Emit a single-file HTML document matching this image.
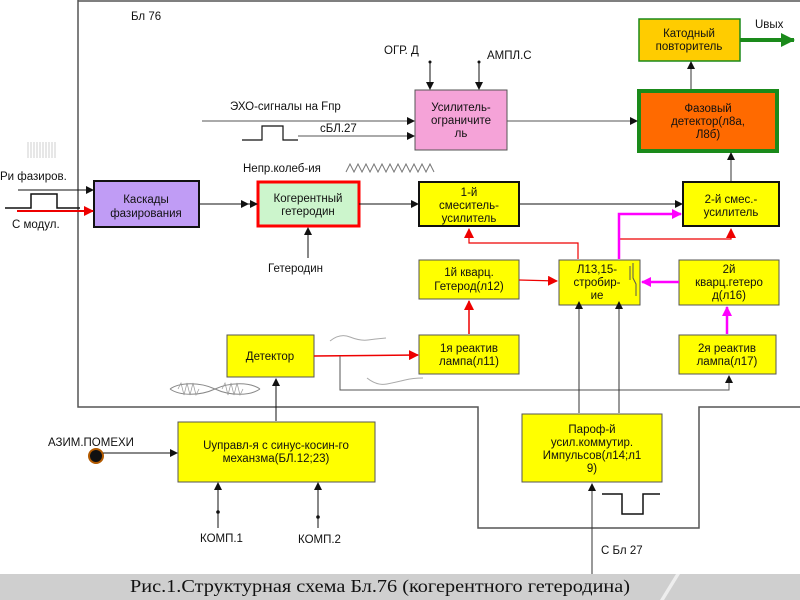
<!DOCTYPE html>
<html><head><meta charset="utf-8"><style>
html,body{margin:0;padding:0;background:#fff;width:800px;height:600px;overflow:hidden}
svg text{font-family:"Liberation Sans","DejaVu Sans",sans-serif;font-size:11.5px;fill:#111}
</style></head><body>
<svg width="800" height="600" viewBox="0 0 800 600" xmlns="http://www.w3.org/2000/svg">
<defs>
<marker id="ak" markerWidth="8" markerHeight="8" refX="7" refY="4" orient="auto" markerUnits="userSpaceOnUse"><path d="M0,0 L8,4 L0,8 z" fill="#111"/></marker>
<marker id="ar" markerWidth="10" markerHeight="10" refX="9" refY="5" orient="auto" markerUnits="userSpaceOnUse"><path d="M0,0 L10,5 L0,10 z" fill="#e00"/></marker>
<marker id="am" markerWidth="10" markerHeight="10" refX="9" refY="5" orient="auto" markerUnits="userSpaceOnUse"><path d="M0,0 L10,5 L0,10 z" fill="#f0f"/></marker>
<marker id="ag" markerWidth="14" markerHeight="14" refX="13" refY="7" orient="auto" markerUnits="userSpaceOnUse"><path d="M0,0 L14,7 L0,14 z" fill="#1a8a1a"/></marker>
</defs>
<path d="M78,0 L78,407 L478,407 L478,528 L699,528 L699,407 L800,407" fill="none" stroke="#555" stroke-width="1.5"/>
<path d="M78,1 L800,1" stroke="#555" stroke-width="1.5"/>
<text x="131" y="20" font-size="12">Бл 76</text>

<rect x="94" y="181" width="105" height="46" fill="#c09cf5" stroke="#111" stroke-width="2"/>
<text x="146" y="203" text-anchor="middle">Каскады</text><text x="146" y="217" text-anchor="middle">фазирования</text>
<rect x="258" y="182" width="101" height="44" fill="#ccf5cc" stroke="#f00" stroke-width="3"/>
<text x="308" y="202" text-anchor="middle">Когерентный</text><text x="308" y="215" text-anchor="middle">гетеродин</text>
<rect x="415" y="90" width="92" height="60" fill="#f5a3d8" stroke="#555" stroke-width="1"/>
<text x="461" y="111" text-anchor="middle">Усилитель-</text><text x="461" y="124" text-anchor="middle">ограничите</text><text x="461" y="137" text-anchor="middle">ль</text>
<rect x="419" y="182" width="100" height="44" fill="#ff0" stroke="#111" stroke-width="2"/>
<text x="469" y="196" text-anchor="middle">1-й</text><text x="469" y="209" text-anchor="middle">смеситель-</text><text x="469" y="222" text-anchor="middle">усилитель</text>
<rect x="639" y="91" width="138" height="60" fill="#ff6a00" stroke="#1a8a1a" stroke-width="4"/>
<text x="708" y="112" text-anchor="middle">Фазовый</text><text x="708" y="125" text-anchor="middle">детектор(л8а,</text><text x="708" y="138" text-anchor="middle">Л8б)</text>
<rect x="639" y="19" width="101" height="42" fill="#fc0" stroke="#1a8a1a" stroke-width="1.5"/>
<text x="689" y="37" text-anchor="middle">Катодный</text><text x="689" y="50" text-anchor="middle">повторитель</text>
<rect x="683" y="182" width="96" height="44" fill="#ff0" stroke="#111" stroke-width="2"/>
<text x="731" y="203" text-anchor="middle">2-й смес.-</text><text x="731" y="216" text-anchor="middle">усилитель</text>
<rect x="419" y="260" width="100" height="39" fill="#ff0" stroke="#555" stroke-width="1"/>
<text x="469" y="276" text-anchor="middle">1й кварц.</text><text x="469" y="290" text-anchor="middle">Гетерод(л12)</text>
<rect x="559" y="260" width="81" height="45" fill="#ff0" stroke="#555" stroke-width="1"/>
<text x="597" y="273" text-anchor="middle">Л13,15-</text><text x="597" y="286" text-anchor="middle">стробир-</text><text x="597" y="299" text-anchor="middle">ие</text>
<path d="M633,263 L633,278 L636,284 L636,296 M630,266 L630,280" stroke="#555" fill="none"/>
<rect x="679" y="260" width="100" height="45" fill="#ff0" stroke="#555" stroke-width="1"/>
<text x="729" y="273" text-anchor="middle">2й</text><text x="729" y="286" text-anchor="middle">кварц.гетеро</text><text x="729" y="299" text-anchor="middle">д(л16)</text>
<rect x="227" y="335" width="87" height="42" fill="#ff0" stroke="#555" stroke-width="1"/>
<text x="270" y="360" text-anchor="middle">Детектор</text>
<rect x="419" y="335" width="100" height="39" fill="#ff0" stroke="#555" stroke-width="1"/>
<text x="469" y="352" text-anchor="middle">1я реактив</text><text x="469" y="365" text-anchor="middle">лампа(л11)</text>
<rect x="679" y="335" width="97" height="39" fill="#ff0" stroke="#555" stroke-width="1"/>
<text x="727" y="352" text-anchor="middle">2я реактив</text><text x="727" y="365" text-anchor="middle">лампа(л17)</text>
<rect x="178" y="422" width="197" height="60" fill="#ff0" stroke="#555" stroke-width="1"/>
<text x="276" y="449" text-anchor="middle">Uуправл-я с синус-косин-го</text><text x="276" y="462" text-anchor="middle">механзма(БЛ.12;23)</text>
<rect x="522" y="414" width="140" height="68" fill="#ff0" stroke="#555" stroke-width="1"/>
<text x="592" y="433" text-anchor="middle">Пароф-й</text><text x="592" y="446" text-anchor="middle">усил.коммутир.</text><text x="592" y="459" text-anchor="middle">Импульсов(л14;л1</text><text x="592" y="472" text-anchor="middle">9)</text>

<path d="M28,142 L28,158 M31,142 L31,158 M34,142 L34,158 M37,142 L37,158 M40,142 L40,158 M43,142 L43,158 M46,142 L46,158 M49,142 L49,158 M52,142 L52,158 M55,142 L55,158" stroke="#bbb" stroke-width="0.7"/>
<text x="0" y="180" font-size="12">Ри фазиров.</text>
<line x1="18" y1="190" x2="93" y2="190" stroke="#111" marker-end="url(#ak)"/>
<path d="M5,208 L31,208 L31,194 L57,194 L57,208 L80,208" stroke="#111" fill="none" stroke-width="1.5"/>
<line x1="17" y1="211" x2="93" y2="211" stroke="#e00" stroke-width="2" marker-end="url(#ar)"/>
<text x="12" y="228" font-size="12">С модул.</text>
<line x1="199" y1="204" x2="248" y2="204" stroke="#111" marker-end="url(#ak)"/>
<line x1="240" y1="204" x2="257" y2="204" stroke="#111" marker-end="url(#ak)"/>
<line x1="308" y1="258" x2="308" y2="228" stroke="#111" marker-end="url(#ak)"/>
<text x="268" y="272">Гетеродин</text>
<text x="243" y="172">Непр.колеб-ия</text>
<path d="M346,172 l4,-8 l4,8 l4,-8 l4,8 l4,-8 l4,8 l4,-8 l4,8 l4,-8 l4,8 l4,-8 l4,8 l4,-8 l4,8 l4,-8 l4,8 l4,-8 l4,8 l4,-8 l4,8 l4,-8 l4,8" stroke="#777" fill="none"/>
<line x1="359" y1="204" x2="418" y2="204" stroke="#111" marker-end="url(#ak)"/>
<line x1="519" y1="204" x2="682" y2="204" stroke="#111" marker-end="url(#ak)"/>

<text x="230" y="110" font-size="12">ЭХО-сигналы на Fпр</text>
<line x1="202" y1="121" x2="414" y2="121" stroke="#555" marker-end="url(#ak)"/>
<path d="M242,140 L262,140 L262,126 L283,126 L283,140 L298,140" stroke="#111" fill="none" stroke-width="1.2"/>
<text x="320" y="132">сБЛ.27</text>
<line x1="298" y1="136" x2="414" y2="136" stroke="#555" marker-end="url(#ak)"/>
<text x="384" y="54">ОГР. Д</text><text x="487" y="59">АМПЛ.С</text>
<circle cx="430" cy="62" r="1.5" fill="#111"/><line x1="430" y1="62" x2="430" y2="89" stroke="#111" marker-end="url(#ak)"/>
<circle cx="479" cy="62" r="1.5" fill="#111"/><line x1="479" y1="62" x2="479" y2="89" stroke="#111" marker-end="url(#ak)"/>
<line x1="507" y1="121" x2="637" y2="121" stroke="#555" marker-end="url(#ak)"/>
<line x1="691" y1="89" x2="691" y2="62" stroke="#333" marker-end="url(#ak)"/>
<line x1="731" y1="181" x2="731" y2="153" stroke="#333" marker-end="url(#ak)"/>
<line x1="740" y1="40" x2="794" y2="40" stroke="#1a8a1a" stroke-width="4" marker-end="url(#ag)"/>
<text x="755" y="28" font-size="12">Uвых</text>

<path d="M578,259 L578,243 L469,243 L469,229" stroke="#e00" fill="none" stroke-width="1.2" marker-end="url(#ar)"/>
<path d="M519,280 L557,281" stroke="#e00" stroke-width="1.2" marker-end="url(#ar)"/>
<path d="M619,259 L619,239 L731,239 L731,229" stroke="#e00" fill="none" stroke-width="1.2" marker-end="url(#ar)"/>
<path d="M619,259 L619,214 L681,214" stroke="#f0f" fill="none" stroke-width="2.5" marker-end="url(#am)"/>
<path d="M679,282 L642,282" stroke="#f0f" stroke-width="2.5" marker-end="url(#am)"/>
<path d="M727,334 L727,307" stroke="#f0f" stroke-width="2.5" marker-end="url(#am)"/>
<path d="M469,334 L469,301" stroke="#e00" stroke-width="1.5" marker-end="url(#ar)"/>
<path d="M314,356 L418,355" stroke="#e00" stroke-width="1.5" marker-end="url(#ar)"/>
<path d="M340,356 L340,390 L729,390 L729,376" stroke="#555" fill="none" marker-end="url(#ak)"/>
<path d="M330,341 q10,-8 20,-4 t18,3 t18,-2" stroke="#aaa" fill="none"/>
<path d="M367,378 q10,8 20,6 t18,-4 t18,-2" stroke="#aaa" fill="none"/>
<path d="M170,389 c10,-7 30,-7 45,0 c15,7 35,7 45,0 M170,389 c10,7 30,7 45,0 c15,-7 35,-7 45,0" stroke="#888" fill="none"/>
<path d="M178,389 l3,-6 l3,12 l3,-12 l3,12 l3,-12 l3,12 l3,-6 M222,389 l3,-6 l3,12 l3,-12 l3,12 l3,-12 l3,12 l3,-6" stroke="#999" fill="none" stroke-width="0.7"/>
<line x1="276" y1="421" x2="276" y2="379" stroke="#111" marker-end="url(#ak)"/>
<text x="48" y="446" font-size="12">АЗИМ.ПОМЕХИ</text>
<circle cx="96" cy="456" r="7" fill="#111" stroke="#b25a00" stroke-width="2"/>
<line x1="103" y1="453" x2="177" y2="453" stroke="#111" marker-end="url(#ak)"/>
<line x1="218" y1="528" x2="218" y2="483" stroke="#111" marker-end="url(#ak)"/><circle cx="218" cy="512" r="1.8" fill="#111"/>
<line x1="318" y1="528" x2="318" y2="483" stroke="#111" marker-end="url(#ak)"/><circle cx="318" cy="517" r="1.8" fill="#111"/>
<text x="200" y="542">КОМП.1</text><text x="298" y="543">КОМП.2</text>
<line x1="579" y1="413" x2="579" y2="302" stroke="#333" marker-end="url(#ak)"/>
<line x1="619" y1="413" x2="619" y2="302" stroke="#333" marker-end="url(#ak)"/>
<line x1="592" y1="574" x2="592" y2="484" stroke="#333" marker-end="url(#ak)"/>
<path d="M602,494 L622,494 L622,514 L643,514 L643,494 L660,494" stroke="#111" fill="none" stroke-width="1.5"/>
<text x="601" y="554" font-size="13">С Бл 27</text>
<rect x="0" y="574" width="800" height="26" fill="#cfcfcf"/>
<path d="M660,600 L676,574 L680,574 L664,600 z" fill="#eee"/>
<text x="380" y="592" text-anchor="middle" style="font-family:'Liberation Serif',serif;font-size:18px" textLength="500" lengthAdjust="spacingAndGlyphs">Рис.1.Структурная схема Бл.76 (когерентного гетеродина)</text>
</svg>
</body></html>
